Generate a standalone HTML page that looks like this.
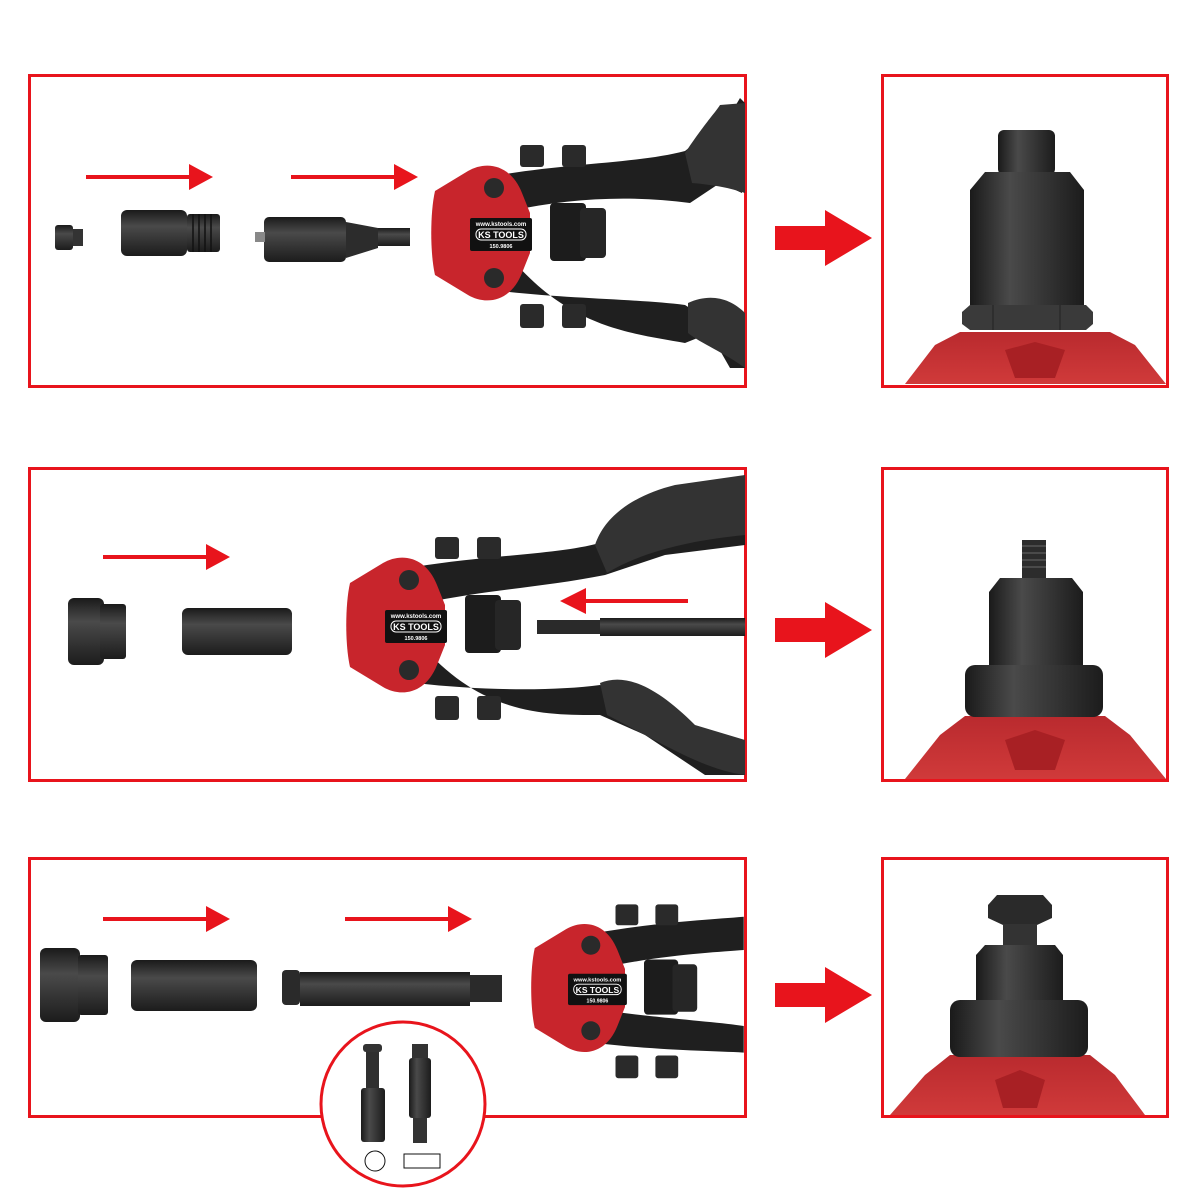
<!DOCTYPE html>
<html><head><meta charset="utf-8"><style>
html,body{margin:0;padding:0;background:#fff;}
svg{display:block;}
text{font-family:"Liberation Sans",sans-serif;font-weight:bold;}
</style></head><body>
<svg width="1200" height="1200" viewBox="0 0 1200 1200" xmlns="http://www.w3.org/2000/svg">
<defs>
<linearGradient id="cyl" x1="0" y1="0" x2="0" y2="1">
<stop offset="0" stop-color="#1a1a1a"/><stop offset="0.35" stop-color="#4a4a4a"/><stop offset="1" stop-color="#1c1c1c"/>
</linearGradient>
<linearGradient id="cylv" x1="0" y1="0" x2="1" y2="0">
<stop offset="0" stop-color="#1a1a1a"/><stop offset="0.35" stop-color="#4a4a4a"/><stop offset="1" stop-color="#1c1c1c"/>
</linearGradient>
<linearGradient id="redb" x1="0" y1="0" x2="0" y2="1">
<stop offset="0" stop-color="#b92a2e"/><stop offset="1" stop-color="#d03a3a"/>
</linearGradient>
</defs>

<!-- Boxes -->
<g fill="none" stroke="#e8141c" stroke-width="3">
<rect x="29.5" y="75.5" width="716" height="311"/>
<rect x="882.5" y="75.5" width="285" height="311"/>
<rect x="29.5" y="468.5" width="716" height="312"/>
<rect x="882.5" y="468.5" width="285" height="312"/>
<rect x="29.5" y="858.5" width="716" height="258"/>
<rect x="882.5" y="858.5" width="285" height="258"/>
</g>

<!-- Big arrows -->
<g fill="#e8141c">
<polygon points="775,226 825,226 825,210 872,238 825,266 825,250 775,250"/>
<polygon points="775,618 825,618 825,602 872,630 825,658 825,642 775,642"/>
<polygon points="775,983 825,983 825,967 872,995 825,1023 825,1007 775,1007"/>
</g>
<!-- Small arrows -->
<g fill="#e8141c">
<rect x="86" y="175" width="105" height="4"/><polygon points="189,164 213,177 189,190"/>
<rect x="291" y="175" width="105" height="4"/><polygon points="394,164 418,177 394,190"/>
<rect x="103" y="555" width="105" height="4"/><polygon points="206,544 230,557 206,570"/>
<rect x="584" y="599" width="104" height="4"/><polygon points="586,588 560,601 586,614"/>
<rect x="103" y="917" width="105" height="4"/><polygon points="206,906 230,919 206,932"/>
<rect x="345" y="917" width="105" height="4"/><polygon points="448,906 472,919 448,932"/>
</g>

<!-- Row 1 parts -->
<rect x="55" y="225" width="18" height="25" rx="3" fill="url(#cyl)"/>
<rect x="73" y="229" width="10" height="17" fill="#333"/>
<rect x="121" y="210" width="66" height="46" rx="6" fill="url(#cyl)"/>
<rect x="187" y="214" width="33" height="38" rx="3" fill="url(#cyl)"/>
<g stroke="#111" stroke-width="1.5"><line x1="193" y1="214" x2="193" y2="252"/><line x1="199" y1="214" x2="199" y2="252"/><line x1="205" y1="214" x2="205" y2="252"/><line x1="211" y1="214" x2="211" y2="252"/></g>
<rect x="264" y="217" width="82" height="45" rx="5" fill="url(#cyl)"/>
<polygon points="346,222 378,228 378,248 346,258" fill="#2c2c2c"/>
<rect x="378" y="228" width="32" height="18" fill="url(#cyl)"/>
<rect x="255" y="232" width="10" height="10" fill="#888"/>

<!-- Row 2 parts -->
<rect x="68" y="598" width="36" height="67" rx="6" fill="url(#cyl)"/>
<rect x="100" y="604" width="26" height="55" rx="3" fill="url(#cyl)"/>
<rect x="182" y="608" width="110" height="47" rx="6" fill="url(#cyl)"/>
<rect x="537" y="620" width="63" height="14" fill="#2a2a2a"/>
<rect x="600" y="618" width="145" height="18" fill="url(#cyl)"/>

<!-- Row 3 parts -->
<rect x="40" y="948" width="40" height="74" rx="6" fill="url(#cyl)"/>
<rect x="78" y="955" width="30" height="60" rx="3" fill="url(#cyl)"/>
<rect x="131" y="960" width="126" height="51" rx="6" fill="url(#cyl)"/>
<rect x="282" y="970" width="18" height="35" rx="4" fill="#2a2a2a"/>
<rect x="300" y="972" width="170" height="34" fill="url(#cyl)"/>
<rect x="470" y="975" width="32" height="27" fill="#2a2a2a"/>

<!-- Circle inset -->
<circle cx="403" cy="1104" r="82" fill="#fff" stroke="#e8141c" stroke-width="3"/>
<rect x="363" y="1044" width="19" height="8" rx="3" fill="#333"/>
<rect x="366" y="1052" width="13" height="38" fill="#2f2f2f"/>
<rect x="361" y="1088" width="24" height="54" rx="3" fill="url(#cylv)"/>
<rect x="412" y="1044" width="16" height="14" fill="#333"/>
<rect x="409" y="1058" width="22" height="60" rx="3" fill="url(#cylv)"/>
<rect x="413" y="1118" width="14" height="25" fill="#333"/>
<circle cx="375" cy="1161" r="10" fill="none" stroke="#111" stroke-width="1"/>
<rect x="404" y="1154" width="36" height="14" fill="none" stroke="#111" stroke-width="1"/>

<!-- Tool 1 -->
<g transform="translate(430,233)">
<path d="M70,-58 C140,-70 210,-70 255,-82 L300,-118 L310,-135 L315,-130 L312,-40 L290,-50 L260,-30 C200,-38 140,-35 80,-22 Z" fill="#1f1f1f"/>
<path d="M255,-80 C275,-110 285,-120 290,-128 L315,-130 L315,-40 C300,-45 285,-48 262,-50 Z" fill="#333"/>
<path d="M70,58 C140,66 210,66 255,72 L300,100 L315,110 L315,135 L300,135 L280,100 L255,110 C200,100 140,95 80,24 Z" fill="#1f1f1f"/>
<path d="M258,70 C280,60 300,65 315,80 L315,135 C295,120 270,110 258,100 Z" fill="#333"/>
<rect x="90" y="-88" width="24" height="22" rx="3" fill="#2a2a2a"/><rect x="132" y="-88" width="24" height="22" rx="3" fill="#2a2a2a"/>
<rect x="90" y="71" width="24" height="24" rx="3" fill="#2a2a2a"/><rect x="132" y="71" width="24" height="24" rx="3" fill="#2a2a2a"/>
<rect x="120" y="-30" width="36" height="58" rx="4" fill="#1c1c1c"/>
<rect x="150" y="-25" width="26" height="50" rx="4" fill="#262626"/>
<path d="M38,-62 C55,-72 80,-70 92,-40 L100,-20 L100,20 L92,40 C80,70 55,72 38,62 L5,42 C0,20 0,-20 5,-42 Z" fill="#c8252c"/>
<circle cx="64" cy="-45" r="10" fill="#2a2a2a"/><circle cx="64" cy="45" r="10" fill="#2a2a2a"/>
<rect x="40" y="-15" width="62" height="33" rx="2" fill="#111"/>
<text x="71" y="-7" font-size="6" fill="#fff" text-anchor="middle">www.kstools.com</text>
<rect x="46" y="-4" width="50" height="11" rx="5" fill="none" stroke="#fff" stroke-width="1"/>
<text x="71" y="5" font-size="9" fill="#fff" text-anchor="middle">KS TOOLS</text>
<text x="71" y="15" font-size="5.5" fill="#fff" text-anchor="middle">150.9806</text>
</g>

<!-- Tool 2 -->
<g transform="translate(345,625)">
<path d="M70,-58 C140,-70 210,-70 255,-82 L300,-118 L340,-140 L400,-148 L400,-80 L320,-70 L260,-50 C200,-38 140,-35 80,-22 Z" fill="#1f1f1f"/>
<path d="M250,-80 C260,-110 290,-130 330,-140 L400,-150 L400,-90 C350,-85 300,-75 262,-52 Z" fill="#333"/>
<path d="M70,58 C140,66 210,66 255,60 L300,80 L350,110 L400,120 L400,150 L360,150 L300,110 L255,90 C200,90 140,90 80,24 Z" fill="#1f1f1f"/>
<path d="M255,58 C280,48 310,60 350,100 L400,115 L400,150 C360,145 320,120 262,90 Z" fill="#333"/>
<rect x="90" y="-88" width="24" height="22" rx="3" fill="#2a2a2a"/><rect x="132" y="-88" width="24" height="22" rx="3" fill="#2a2a2a"/>
<rect x="90" y="71" width="24" height="24" rx="3" fill="#2a2a2a"/><rect x="132" y="71" width="24" height="24" rx="3" fill="#2a2a2a"/>
<rect x="120" y="-30" width="36" height="58" rx="4" fill="#1c1c1c"/>
<rect x="150" y="-25" width="26" height="50" rx="4" fill="#262626"/>
<path d="M38,-62 C55,-72 80,-70 92,-40 L100,-20 L100,20 L92,40 C80,70 55,72 38,62 L5,42 C0,20 0,-20 5,-42 Z" fill="#c8252c"/>
<circle cx="64" cy="-45" r="10" fill="#2a2a2a"/><circle cx="64" cy="45" r="10" fill="#2a2a2a"/>
<rect x="40" y="-15" width="62" height="33" rx="2" fill="#111"/>
<text x="71" y="-7" font-size="6" fill="#fff" text-anchor="middle">www.kstools.com</text>
<rect x="46" y="-4" width="50" height="11" rx="5" fill="none" stroke="#fff" stroke-width="1"/>
<text x="71" y="5" font-size="9" fill="#fff" text-anchor="middle">KS TOOLS</text>
<text x="71" y="15" font-size="5.5" fill="#fff" text-anchor="middle">150.9806</text>
</g>

<!-- Tool 3 -->
<g transform="translate(530,988) scale(0.95)">
<path d="M70,-58 C140,-70 190,-72 225,-75 L225,-40 C200,-38 140,-35 80,-22 Z" fill="#1f1f1f"/>
<path d="M70,58 C140,66 190,66 225,68 L225,40 C200,36 140,32 80,24 Z" fill="#1f1f1f"/>
<rect x="90" y="-88" width="24" height="22" rx="3" fill="#2a2a2a"/><rect x="132" y="-88" width="24" height="22" rx="3" fill="#2a2a2a"/>
<rect x="90" y="71" width="24" height="24" rx="3" fill="#2a2a2a"/><rect x="132" y="71" width="24" height="24" rx="3" fill="#2a2a2a"/>
<rect x="120" y="-30" width="36" height="58" rx="4" fill="#1c1c1c"/>
<rect x="150" y="-25" width="26" height="50" rx="4" fill="#262626"/>
<path d="M38,-62 C55,-72 80,-70 92,-40 L100,-20 L100,20 L92,40 C80,70 55,72 38,62 L5,42 C0,20 0,-20 5,-42 Z" fill="#c8252c"/>
<circle cx="64" cy="-45" r="10" fill="#2a2a2a"/><circle cx="64" cy="45" r="10" fill="#2a2a2a"/>
<rect x="40" y="-15" width="62" height="33" rx="2" fill="#111"/>
<text x="71" y="-7" font-size="6" fill="#fff" text-anchor="middle">www.kstools.com</text>
<rect x="46" y="-4" width="50" height="11" rx="5" fill="none" stroke="#fff" stroke-width="1"/>
<text x="71" y="5" font-size="9" fill="#fff" text-anchor="middle">KS TOOLS</text>
<text x="71" y="15" font-size="5.5" fill="#fff" text-anchor="middle">150.9806</text>
</g>

<!-- Right panel 1 -->
<path d="M905,384 L935,345 L960,332 L1110,332 L1135,345 L1166,384 Z" fill="url(#redb)"/>
<polygon points="1005,350 1035,342 1065,350 1055,378 1015,378" fill="#a82024"/>
<rect x="998" y="130" width="57" height="45" rx="6" fill="url(#cylv)"/>
<path d="M985,172 L1070,172 L1084,190 L1084,305 L970,305 L970,190 Z" fill="url(#cylv)"/>
<path d="M962,312 L970,305 L1086,305 L1093,312 L1093,324 L1086,330 L970,330 L962,324 Z" fill="#3a3a3a"/>
<line x1="993" y1="305" x2="993" y2="330" stroke="#222"/><line x1="1060" y1="305" x2="1060" y2="330" stroke="#222"/>

<!-- Right panel 2 -->
<path d="M905,779 L940,735 L965,716 L1105,716 L1130,735 L1166,779 Z" fill="url(#redb)"/>
<polygon points="1005,740 1035,730 1065,740 1055,770 1015,770" fill="#a82024"/>
<rect x="1022" y="540" width="24" height="40" fill="#2c2c2c"/>
<g stroke="#555" stroke-width="1.5"><line x1="1022" y1="546" x2="1046" y2="546"/><line x1="1022" y1="553" x2="1046" y2="553"/><line x1="1022" y1="560" x2="1046" y2="560"/><line x1="1022" y1="567" x2="1046" y2="567"/></g>
<path d="M1000,578 L1072,578 L1083,592 L1083,668 L989,668 L989,592 Z" fill="url(#cylv)"/>
<rect x="965" y="665" width="138" height="52" rx="10" fill="url(#cylv)"/>

<!-- Right panel 3 -->
<path d="M890,1115 L925,1075 L950,1055 L1090,1055 L1115,1075 L1145,1115 Z" fill="url(#redb)"/>
<polygon points="995,1080 1020,1070 1045,1080 1037,1108 1003,1108" fill="#a82024"/>
<path d="M997,895 L1043,895 L1052,905 L1052,918 L1037,925 L1003,925 L988,918 L988,905 Z" fill="#2a2a2a"/>
<rect x="1003" y="924" width="34" height="24" fill="#333"/>
<path d="M985,945 L1055,945 L1063,955 L1063,1002 L976,1002 L976,955 Z" fill="url(#cylv)"/>
<rect x="950" y="1000" width="138" height="57" rx="10" fill="url(#cylv)"/>
</svg>
</body></html>
